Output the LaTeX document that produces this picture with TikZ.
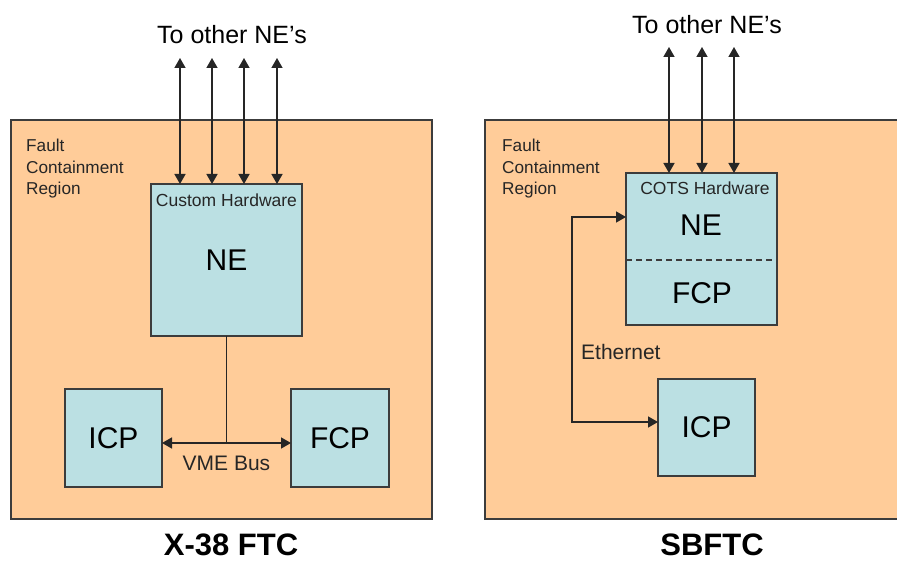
\documentclass[tikz,border=0pt]{standalone}
\usepackage{fontspec}
\setmainfont{Liberation Sans}
\usetikzlibrary{arrows.meta}

\definecolor{regionfill}{RGB}{255,204,153}
\definecolor{boxfill}{RGB}{187,224,227}
\definecolor{edge}{RGB}{60,60,60}

\tikzset{
  region/.style={draw=edge, fill=regionfill, line width=1.8pt, inner sep=0pt, outer sep=0pt},
  unit/.style={draw=edge, fill=boxfill, line width=1.8pt, inner sep=0pt, outer sep=0pt},
  link/.style={line width=1.5pt, draw=black!85},
  tip/.style={-{Triangle[length=10pt,width=11pt]}},
  tips/.style={{Triangle[length=10pt,width=11pt]}-{Triangle[length=10pt,width=11pt]}},
  small/.style={font=\fontsize{17.2}{21.5}\selectfont, text=black!85, align=left, inner sep=0pt},
  big/.style={font=\fontsize{30}{34}\selectfont, text=black, inner sep=0pt},
  mid/.style={font=\fontsize{21}{25}\selectfont, text=black!85, inner sep=0pt},
  head/.style={font=\fontsize{25}{29}\selectfont, text=black, inner sep=0pt},
  caption/.style={font=\bfseries\fontsize{31}{34}\selectfont, text=black, inner sep=0pt},
}

\begin{document}
\begin{tikzpicture}[x=1pt, y=-1pt]
\useasboundingbox (0,0) rectangle (897,561);
\clip (0,0) rectangle (897,561);
\fill[white] (0,0) rectangle (897,561);

% ---------- X-38 FTC ----------
\node[region, minimum width=421pt, minimum height=399pt] (regA) at (221.5,319.5) {};
\node[small, anchor=north west] (fcrA) at (26,139) {Fault\\Containment\\Region};

\node[unit, minimum width=151pt, minimum height=152pt] (neA) at (226.5,260) {};
\node[small, font=\fontsize{17.5}{20}\selectfont] (hwA) at (226.5,200) {Custom Hardware};
\node[big] (neAlbl) at (226.5,260) {NE};

\node[unit, minimum width=97pt, minimum height=98pt] (icpA) at (113.5,438) {};
\node[big] at (icpA) {ICP};
\node[unit, minimum width=98pt, minimum height=98pt] (fcpA) at (340,438) {};
\node[big] at (fcpA) {FCP};

\coordinate (busA) at (226.5,443);
\draw[link] (neA.south) -- (busA);
\draw[link, tips] (icpA.east |- busA) -- (fcpA.west |- busA);
\node[mid] (vme) at (226.5,463) {VME Bus};

\node[head] (toA) at (232,35) {To other NE’s};
\foreach \i/\x in {1/180, 2/212, 3/244, 4/277} {
  \coordinate (ta\i) at (\x,58);
  \draw[link, tips] (ta\i) -- (ta\i |- neA.north);
}

\node[caption, anchor=base] (capA) at (231,555) {X-38 FTC};

% ---------- SBFTC ----------
\node[region, minimum width=440pt, minimum height=399pt] (regB) at (705,319.5) {};
\node[small, anchor=north west] (fcrB) at (502,139) {Fault\\Containment\\Region};

\node[unit, minimum width=151pt, minimum height=152pt] (neB) at (701.5,249) {};
\draw[edge, line width=1.3pt, dash pattern=on 6pt off 4pt] (neB.west |- 0,260) -- ([xshift=-3pt]neB.east |- 0,260);
\node[small, font=\fontsize{17.5}{20}\selectfont] (hwB) at (705,188) {COTS Hardware};
\node[big] (neBlbl) at (701,225) {NE};
\node[big] (fcpB) at (702,293) {FCP};

\node[unit, minimum width=97pt, minimum height=97pt] (icpB) at (706.5,427.5) {};
\node[big] at (icpB) {ICP};

\coordinate (ethTop) at (572,217);
\coordinate (ethBot) at (572,422);
\draw[link, tip] (ethBot) -- (ethTop) -- (neB.west |- ethTop);
\draw[link, tip] (ethTop) -- (ethBot) -- (icpB.west |- ethBot);
\node[mid, anchor=west] (eth) at (581,352) {Ethernet};

\node[head] (toB) at (707,25) {To other NE’s};
\foreach \i/\x in {1/669, 2/702, 3/734} {
  \coordinate (tb\i) at (\x,47);
  \draw[link, tips] (tb\i) -- (tb\i |- neB.north);
}

\node[caption, anchor=base] (capB) at (712,555) {SBFTC};
\end{tikzpicture}
\end{document}
